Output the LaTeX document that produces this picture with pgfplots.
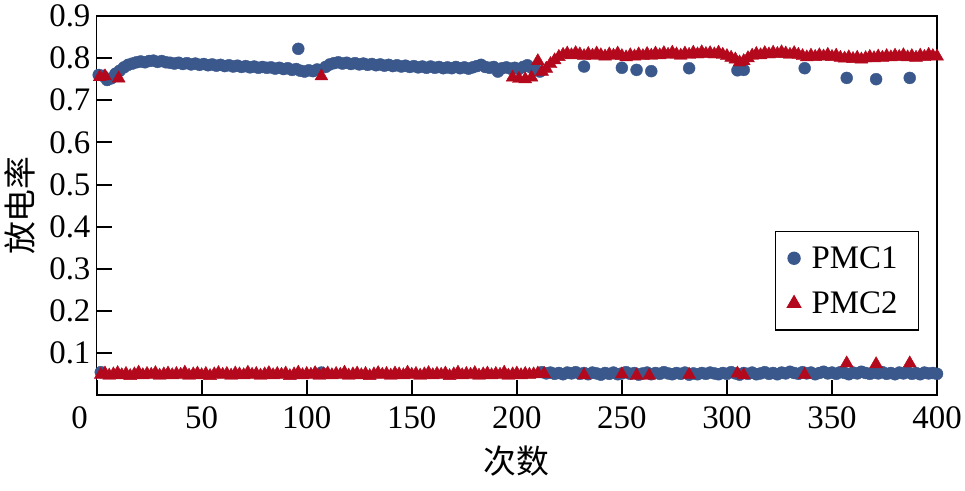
\documentclass[border=0pt]{standalone}
\usepackage{pgfplots}
\pgfplotsset{compat=1.18}
\usepackage{fontspec}
\setmainfont{Liberation Serif}
\newfontfamily\cjk{Noto Sans CJK SC}
\definecolor{pblue}{RGB}{58,88,140}
\definecolor{pred}{RGB}{180,8,28}
\begin{document}
\begin{tikzpicture}
\path (-97bp,-96bp) rectangle (868bp,397bp);
\begin{axis}[
 at={(0,0)}, anchor=south west,
 width=844bp, height=381bp, scale only axis,
 clip=false, axis on top,
 xmin=0, xmax=400, ymin=0, ymax=0.9,
 xtick={0,50,100,...,400},
 ytick={0.1,0.2,0.3,0.4,0.5,0.6,0.7,0.8,0.9},
 tick pos=left,
 tick align=inside,
 major tick length=15bp,
 major tick style={black, line width=2bp},
 axis line style={line width=1.8bp},
 tick label style={font=\fontsize{33bp}{40bp}\selectfont},
 /pgf/number format/assume math mode=true,
 yticklabel style={/pgf/number format/fixed, /pgf/number format/fixed zerofill, /pgf/number format/precision=1, inner xsep=6bp},
 xticklabel style={inner ysep=11bp},
 xticklabels={\hspace*{-34bp}0,50,100,150,200,250,300,350,400},
 xlabel={\cjk 次数}, ylabel={\cjk 放电率},
 every axis x label/.style={at={(axis description cs:0.5,0)}, yshift=-66bp, anchor=center, font=\fontsize{33bp}{40bp}\selectfont},
 every axis y label/.style={at={(axis description cs:0,0.5)}, xshift=-77bp, rotate=90, anchor=center, font=\fontsize{33bp}{40bp}\selectfont},
 legend cell align=left,
 legend image code/.code={\path (-6bp,0bp) (6bp,0bp); \draw[#1] plot coordinates {(0bp,0bp)};},
 legend style={at={(rel axis cs:0.9787,0.4331)}, anchor=north east, draw=black, line width=1.4bp, font=\fontsize{33bp}{40bp}\selectfont, inner xsep=12bp, inner ysep=15bp, row sep=22bp, column sep=11bp, nodes={inner sep=0bp}},
 after end axis/.code={
   \foreach \xx in {50,100,150,200,250,300,350} {\draw[black, line width=2bp] (axis cs:\xx,0) -- ++(0bp,15bp);}
   \foreach \yy in {0.1,0.2,0.3,0.4,0.5,0.6,0.7,0.8} {\draw[black, line width=2bp] (axis cs:0,\yy) -- ++(15bp,0bp);}
 },
]
\addplot[only marks, mark=*, mark size=6bp, color=pblue, mark options={fill=pblue, draw=pblue}] coordinates {
(1,0.760)(3,0.758)(5,0.748)(7,0.752)(9,0.763)(11,0.770)(13,0.778)(15,0.784)(17,0.787)(19,0.790)(21,0.792)(23,0.790)(25,0.793)(27,0.794)(29,0.791)(31,0.793)(33,0.790)(35,0.789)(37,0.787)(39,0.789)(41,0.786)(43,0.788)(45,0.785)(47,0.787)(49,0.784)(51,0.786)(53,0.783)(55,0.785)(57,0.782)(59,0.784)(61,0.781)(63,0.783)(65,0.780)(67,0.782)(69,0.779)(71,0.781)(73,0.778)(75,0.780)(77,0.777)(79,0.779)(81,0.777)(83,0.778)(85,0.775)(87,0.777)(89,0.774)(91,0.776)(93,0.772)(95,0.774)(96,0.822)(97,0.770)(99,0.768)(101,0.771)(103,0.769)(105,0.773)(109,0.779)(111,0.785)(113,0.788)(115,0.790)(117,0.787)(119,0.789)(121,0.786)(123,0.788)(125,0.785)(127,0.787)(129,0.784)(131,0.786)(133,0.783)(135,0.785)(137,0.782)(139,0.784)(141,0.781)(143,0.783)(145,0.780)(147,0.782)(149,0.779)(151,0.781)(153,0.778)(155,0.780)(157,0.777)(159,0.780)(161,0.777)(163,0.779)(165,0.776)(167,0.778)(169,0.776)(171,0.779)(173,0.776)(175,0.778)(177,0.775)(179,0.778)(181,0.781)(183,0.784)(185,0.779)(187,0.777)(189,0.779)(191,0.768)(193,0.776)(195,0.778)(197,0.775)(199,0.777)(201,0.774)(203,0.779)(205,0.783)(207,0.777)(209,0.772)(211,0.768)
(2,0.055)(107,0.054)
(232,0.780)(250,0.777)(257,0.772)(264,0.769)(282,0.776)(305,0.771)(308,0.772)(337,0.776)(357,0.753)(371,0.750)(387,0.753)
(212,0.055)(214,0.052)(216,0.054)(218,0.051)(220,0.053)(222,0.050)(224,0.054)(226,0.052)(228,0.055)(230,0.051)(232,0.053)(234,0.050)(236,0.054)(238,0.052)(240,0.049)(242,0.053)(244,0.051)(246,0.054)(248,0.050)(250,0.052)
(252,0.055)(254,0.051)(256,0.053)(258,0.049)(260,0.052)(262,0.054)(264,0.050)(266,0.053)(268,0.051)(270,0.055)(272,0.052)(274,0.050)(276,0.053)(278,0.051)(280,0.054)(282,0.049)(284,0.052)(286,0.050)(288,0.053)(290,0.051)
(292,0.054)(294,0.052)(296,0.050)(298,0.053)(300,0.051)(302,0.055)(304,0.052)(306,0.049)(308,0.053)(310,0.051)(312,0.054)(314,0.050)(316,0.052)(318,0.055)(320,0.051)(322,0.053)(324,0.050)(326,0.054)(328,0.052)(330,0.056)
(332,0.053)(334,0.051)(336,0.055)(338,0.052)(340,0.054)(342,0.050)(344,0.053)(346,0.056)(348,0.052)(350,0.054)(352,0.051)(354,0.055)(356,0.053)(358,0.050)(360,0.054)(362,0.052)(364,0.056)(366,0.053)(368,0.051)(370,0.054)
(372,0.052)(374,0.055)(376,0.051)(378,0.053)(380,0.050)(382,0.054)(384,0.052)(386,0.055)(388,0.051)(390,0.053)(392,0.050)(394,0.054)(396,0.052)(398,0.053)(400,0.051)
};
\addlegendentry{PMC1\hspace*{9bp}}
\addplot[only marks, mark=triangle*, mark size=7.5bp, color=pred, mark options={fill=pred, draw=pred}] coordinates {
(2,0.049)(4,0.052)(6,0.047)(8,0.050)(10,0.053)(12,0.048)(14,0.051)(16,0.046)(18,0.050)(20,0.054)(22,0.048)(24,0.051)(26,0.049)(28,0.053)(30,0.047)(32,0.050)(34,0.052)(36,0.048)(38,0.051)(40,0.049)
(42,0.054)(44,0.047)(46,0.050)(48,0.052)(50,0.048)(52,0.051)(54,0.046)(56,0.050)(58,0.053)(60,0.049)(62,0.051)(64,0.047)(66,0.052)(68,0.050)(70,0.048)(72,0.054)(74,0.049)(76,0.051)(78,0.047)(80,0.050)
(82,0.053)(84,0.048)(86,0.051)(88,0.049)(90,0.052)(92,0.046)(94,0.050)(96,0.054)(98,0.048)(100,0.051)(102,0.049)(104,0.053)(106,0.047)(108,0.050)(110,0.052)(112,0.048)(114,0.051)(116,0.049)(118,0.054)(120,0.047)
(122,0.050)(124,0.052)(126,0.048)(128,0.051)(130,0.046)(132,0.050)(134,0.053)(136,0.049)(138,0.051)(140,0.047)(142,0.052)(144,0.050)(146,0.048)(148,0.054)(150,0.049)(152,0.051)(154,0.047)(156,0.050)(158,0.053)(160,0.048)
(162,0.051)(164,0.049)(166,0.052)(168,0.046)(170,0.050)(172,0.054)(174,0.048)(176,0.051)(178,0.049)(180,0.053)(182,0.047)(184,0.050)(186,0.052)(188,0.048)(190,0.051)(192,0.049)(194,0.054)(196,0.047)(198,0.050)(200,0.052)
(202,0.048)(204,0.051)(206,0.049)(208,0.050)(210,0.052)
(1.5,0.755)(4,0.757)(10.5,0.752)(107,0.757)(198,0.754)(201,0.751)(204,0.750)(207,0.754)
(210,0.793)(212,0.768)(214,0.775)(216,0.786)(218,0.795)(220,0.803)(222,0.808)(224,0.811)(226,0.807)(228,0.812)(230,0.809)(232,0.805)(234,0.810)(236,0.806)(238,0.811)(240,0.807)(242,0.804)(244,0.809)(246,0.806)(248,0.811)
(250,0.805)(252,0.802)(254,0.807)(256,0.804)(258,0.809)(260,0.805)(262,0.810)(264,0.806)(266,0.811)(268,0.807)(270,0.812)(272,0.808)(274,0.813)(276,0.809)(278,0.806)(280,0.811)(282,0.808)(284,0.813)(286,0.809)(288,0.814)
(290,0.810)(292,0.812)(294,0.809)(296,0.813)(298,0.808)(300,0.805)(302,0.801)(304,0.797)(306,0.790)(308,0.793)(310,0.800)(312,0.806)(314,0.810)(316,0.807)(318,0.812)(320,0.809)(322,0.813)(324,0.810)(326,0.814)(328,0.811)
(330,0.808)(332,0.812)(334,0.808)(336,0.805)(338,0.802)(340,0.806)(342,0.803)(344,0.807)(346,0.804)(348,0.808)(350,0.803)(352,0.806)(354,0.801)(356,0.799)(358,0.802)(360,0.798)(362,0.801)(364,0.797)(366,0.800)(368,0.803)
(370,0.800)(372,0.804)(374,0.801)(376,0.805)(378,0.802)(380,0.806)(382,0.803)(384,0.807)(386,0.802)(388,0.805)(390,0.801)(392,0.806)(394,0.803)(396,0.808)(398,0.805)(400,0.804)
(213,0.051)(232,0.048)(250,0.050)(257,0.047)(263,0.047)(282,0.049)(305,0.052)(308,0.048)(337,0.049)(357,0.076)(371,0.074)(387,0.076)
};
\addlegendentry{PMC2\hspace*{9bp}}
\end{axis}
\end{tikzpicture}
\end{document}
